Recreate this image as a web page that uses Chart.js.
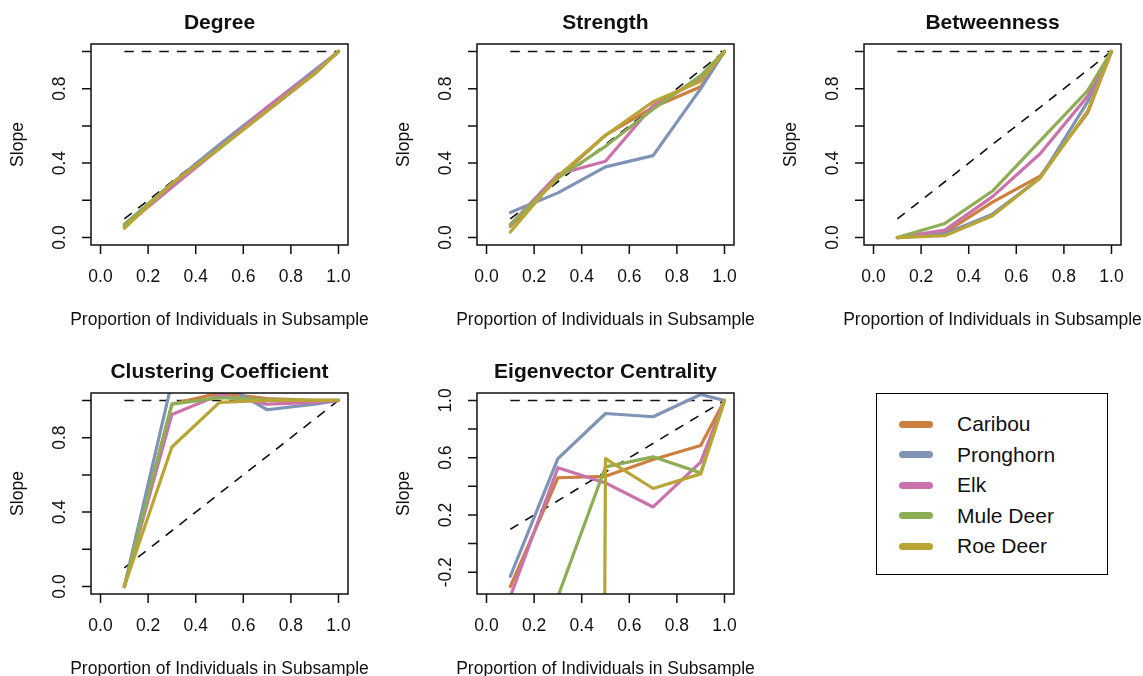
<!DOCTYPE html>
<html>
<head>
<meta charset="utf-8">
<script src="https://cdn.jsdelivr.net/npm/chart.js@4.4.1/dist/chart.umd.min.js"></script>
<style>
  body { margin: 0; background: #fff; }
  #page { position: relative; width: 1143px; height: 676px; overflow: hidden; background: #fff;
          font-family: "Liberation Sans", Arial, sans-serif; }
  #page canvas { position: absolute; }
  #legend { position: absolute; left: 876px; top: 393px; width: 232px; height: 182px;
            border: 1.5px solid #000; box-sizing: border-box; }
  #legend .item { position: absolute; left: 0; height: 30px; line-height: 30px; font-size: 21px; color: #111; }
  #legend .swatch { position: absolute; left: 22px; top: 11.5px; width: 34px; height: 7px; border-radius: 4px; }
  #legend .label { position: absolute; left: 80px; white-space: nowrap; }
</style>
</head>
<body>
<div id="page">
  <canvas id="degree" width="386" height="340" style="left:0;top:0"></canvas>
  <canvas id="strength" width="386" height="340" style="left:386px;top:0"></canvas>
  <canvas id="betweenness" width="386" height="340" style="left:773px;top:0"></canvas>
  <canvas id="clustering" width="386" height="340" style="left:0;top:349px"></canvas>
  <canvas id="eigenvector" width="386" height="340" style="left:386px;top:349px"></canvas>
  <div id="legend"></div>
</div>
<script>
// subsample proportions and the species compared
const proportions = [0.1, 0.3, 0.5, 0.7, 0.9, 1.0];
const species = ['Caribou', 'Pronghorn', 'Elk', 'Mule Deer', 'Roe Deer'];
const speciesColors = ['#CC7F3E', '#7E93B6', '#CB72AD', '#8EAE56', '#B8A535'];

// slope of subsample metric vs full network, one row per species
const degreeSlopes = [
    [0.06, 0.28, 0.48, 0.69, 0.89, 1.0],
    [0.07, 0.29, 0.50, 0.70, 0.90, 1.0],
    [0.06, 0.27, 0.48, 0.70, 0.89, 1.0],
    [0.07, 0.29, 0.48, 0.68, 0.88, 1.0],
    [0.05, 0.29, 0.48, 0.68, 0.88, 1.0]
];
const strengthSlopes = [
    [0.06, 0.32, 0.55, 0.70, 0.81, 1.0],
    [0.135, 0.24, 0.38, 0.44, 0.80, 1.0],
    [0.07, 0.34, 0.41, 0.71, 0.85, 1.0],
    [0.07, 0.32, 0.49, 0.69, 0.87, 1.0],
    [0.03, 0.33, 0.55, 0.73, 0.84, 1.0]
];
const betweennessSlopes = [
    [0.0, 0.027, 0.19, 0.33, 0.67, 1.0],
    [0.0, 0.02, 0.126, 0.32, 0.73, 1.0],
    [0.0, 0.04, 0.22, 0.45, 0.76, 1.0],
    [0.0, 0.076, 0.25, 0.52, 0.79, 1.0],
    [0.0, 0.01, 0.117, 0.32, 0.68, 1.0]
];
const clusteringSlopes = [
    [0.0, 0.98, 1.04, 1.01, 1.0, 1.0],
    [0.0, 1.10, 1.10, 0.95, 0.98, 1.0],
    [0.0, 0.925, 1.03, 0.98, 0.99, 1.0],
    [0.0, 0.98, 1.015, 1.005, 1.0, 1.0],
    [0.0, 0.75, 0.99, 1.0, 1.0, 1.0]
];
const eigenvectorSlopes = [
    [-0.30, 0.46, 0.47, 0.587, 0.685, 1.0],
    [-0.228, 0.594, 0.909, 0.886, 1.042, 1.0],
    [-0.37, 0.53, 0.424, 0.256, 0.569, 1.0],
    [-0.9, -0.37, 0.536, 0.606, 0.494, 1.0],
    [-60, -60, 0.594, 0.385, 0.487, 1.0]
];

// reference lines: perfect slope (flat at 1) and proportional (1:1)
const refX = [0.1, 1.0];
const refFlat = [1.0, 1.0];
const refDiag = [0.1, 1.0];

// axis ticks
const xTicks = [0, 0.2, 0.4, 0.6, 0.8, 1.0];
const yTicks = [0, 0.2, 0.4, 0.6, 0.8, 1.0];
const yLabels = [0, 0.4, 0.8];
const eigenYTicks = [-0.2, 0, 0.2, 0.4, 0.6, 0.8, 1.0];
const eigenYLabels = [-0.2, 0.2, 0.6, 1.0];

const FONT = '"Liberation Sans", Arial, sans-serif';

// base-graphics style frame: box, outward ticks, labels, titles
const rFrame = {
    id: 'rFrame',
    afterDatasetsDraw(chart, args, opts) {
        const { ctx, chartArea: a, scales: { x, y } } = chart;
        const midX = (a.left + a.right) / 2;
        ctx.save();
        ctx.strokeStyle = '#111';
        ctx.lineWidth = 1.5;
        ctx.strokeRect(a.left, a.top, a.right - a.left, a.bottom - a.top);

        ctx.fillStyle = '#111';
        ctx.textAlign = 'center';
        ctx.textBaseline = 'middle';
        ctx.font = '17.5px ' + FONT;

        ctx.beginPath();
        xTicks.forEach(v => {
            const px = x.getPixelForValue(v);
            ctx.moveTo(px, a.bottom);
            ctx.lineTo(px, a.bottom + 9);
        });
        opts.yTicks.forEach(v => {
            const py = y.getPixelForValue(v);
            ctx.moveTo(a.left, py);
            ctx.lineTo(a.left - 9, py);
        });
        ctx.stroke();

        xTicks.forEach(v => ctx.fillText(v.toFixed(1), x.getPixelForValue(v), a.bottom + 32));
        opts.yLabels.forEach(v => {
            ctx.save();
            ctx.translate(a.left - 31, y.getPixelForValue(v));
            ctx.rotate(-Math.PI / 2);
            ctx.fillText(v.toFixed(1), 0, 0);
            ctx.restore();
        });

        ctx.fillText('Proportion of Individuals in Subsample', midX, a.bottom + 75);
        ctx.save();
        ctx.translate(18, (a.top + a.bottom) / 2);
        ctx.rotate(-Math.PI / 2);
        ctx.fillText('Slope', 0, 0);
        ctx.restore();

        ctx.font = 'bold 21px ' + FONT;
        ctx.fillText(opts.title, midX, 23);
        ctx.restore();
    }
};

function toPoints(ys) {
    return ys.map((v, i) => ({ x: proportions[i], y: v }));
}

// dashed reference line, drawn beneath the species lines
function refDataset(ys) {
    return {
        data: ys.map((v, i) => ({ x: refX[i], y: v })),
        borderColor: '#111',
        borderWidth: 1.6,
        borderDash: [9.5, 8],
        order: 10,
        clip: 0
    };
}

function drawPanel(id, title, slopes, yRange, ticks, labels) {
    const datasets = slopes.map((ys, i) => ({
        label: species[i],
        data: toPoints(ys),
        borderColor: speciesColors[i],
        borderWidth: 3.2,
        borderCapStyle: 'round',
        borderJoinStyle: 'round',
        order: species.length - i,
        clip: 0
    }));
    datasets.push(refDataset(refFlat), refDataset(refDiag));

    return new Chart(document.getElementById(id), {
        type: 'line',
        data: { datasets },
        plugins: [rFrame],
        options: {
            responsive: false,
            animation: false,
            layout: { padding: { left: 91, right: 38, top: 44, bottom: 95 } },
            elements: { point: { radius: 0 }, line: { tension: 0 } },
            plugins: {
                legend: { display: false },
                tooltip: { enabled: false },
                rFrame: { title, yTicks: ticks, yLabels: labels }
            },
            scales: {
                x: { type: 'linear', display: false, min: -0.04, max: 1.04 },
                y: { type: 'linear', display: false, min: yRange[0], max: yRange[1] }
            }
        }
    });
}

const unitRange = [-0.04, 1.04];
drawPanel('degree', 'Degree', degreeSlopes, unitRange, yTicks, yLabels);
drawPanel('strength', 'Strength', strengthSlopes, unitRange, yTicks, yLabels);
drawPanel('betweenness', 'Betweenness', betweennessSlopes, unitRange, yTicks, yLabels);
drawPanel('clustering', 'Clustering Coefficient', clusteringSlopes, unitRange, yTicks, yLabels);
drawPanel('eigenvector', 'Eigenvector Centrality', eigenvectorSlopes, [-0.352, 1.052], eigenYTicks, eigenYLabels);

// legend box
const legend = document.getElementById('legend');
species.forEach((name, i) => {
    const item = document.createElement('div');
    item.className = 'item';
    item.style.top = (15 + i * 30.5) + 'px';
    item.innerHTML = '<span class="swatch" style="background:' + speciesColors[i] + '"></span>' +
        '<span class="label">' + name + '</span>';
    legend.appendChild(item);
});
</script>
</body>
</html>
